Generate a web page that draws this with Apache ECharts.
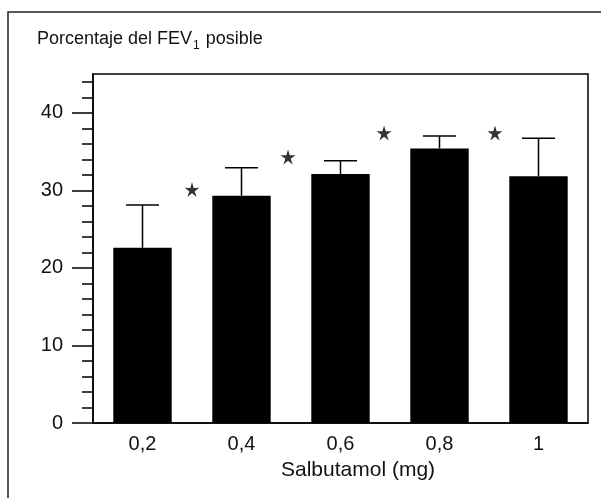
<!DOCTYPE html>
<html>
<head>
<meta charset="utf-8">
<script src="https://cdn.jsdelivr.net/npm/echarts@6/dist/echarts.min.js"></script>
<style>
  html, body { margin: 0; padding: 0; background: #fff; }
  #main { width: 601px; height: 498px; }
</style>
</head>
<body>
<div id="main"></div>
<script>
// dosis de salbutamol (mg)
var doses = ["0,2", "0,4", "0,6", "0,8", "1"];
// media del porcentaje del FEV1 posible
var means = [22.6, 29.3, 32.1, 35.4, 31.8];
// extremo superior de la barra de error
var upper = [28.1, 32.9, 33.8, 37.0, 36.7];
// asteriscos de significacion (x en unidades de categoria)
var starX = [0.5, 1.47, 2.44, 3.56];
var starY = [30.1, 34.3, 37.4, 37.4];
var majorTicks = [0, 10, 20, 30, 40];
var minorTicks = [2, 4, 6, 8, 12, 14, 16, 18, 22, 24, 26, 28, 32, 34, 36, 38, 42, 44];

var FONT = "'Liberation Sans', Arial, Helvetica, sans-serif";
var INK = "#111";
var STAR = "path://M50,0 L60.6,35.4 L97.6,34.6 L67.1,55.6 L79.4,90.5 L50,68 L20.6,90.5 L32.9,55.6 L2.4,34.6 L39.4,35.4 Z";

var chart = echarts.init(document.getElementById("main"));

var errData = means.map(function (m, i) { return [i, m, upper[i]]; });
var starData = starX.map(function (x, i) { return [x, starY[i]]; });

chart.setOption({
  animation: false,
  backgroundColor: "#fff",
  textStyle: { fontFamily: FONT, color: INK },
  title: {
    left: 32,
    top: 23,
    text: "{a|Porcentaje del FEV}{s|1}{a| posible}",
    textStyle: {
      fontWeight: "normal",
      rich: {
        a: { fontFamily: FONT, fontSize: 18, fontWeight: "normal", color: INK, lineHeight: 22 },
        s: { fontFamily: FONT, fontSize: 12, fontWeight: "normal", color: INK, padding: [13, 1, 0, 1], lineHeight: 22 }
      }
    }
  },
  graphic: [
    {
      type: "rect",
      shape: { x: 8, y: 12, width: 800, height: 800 },
      style: { fill: null, stroke: "#222", lineWidth: 1.5 },
      silent: true
    },
    {
      type: "text",
      left: 281,
      top: 460,
      style: { text: "Salbutamol (mg)", fontFamily: FONT, fontSize: 21, fill: INK }
    }
  ],
  grid: {
    left: 93, top: 74, right: 13, bottom: 75,
    show: true, borderColor: "#000", borderWidth: 1.5, backgroundColor: "transparent"
  },
  xAxis: [
    {
      type: "category",
      data: doses,
      axisLine: { onZero: false, lineStyle: { color: "#000", width: 1.5 } },
      axisTick: { show: false },
      axisLabel: { margin: 11, fontSize: 20, color: INK, fontFamily: FONT },
      splitLine: { show: false }
    },
    {
      type: "value",
      min: -0.5, max: 4.5,
      show: false
    }
  ],
  yAxis: [
    {
      type: "value",
      min: 0, max: 45,
      axisLine: { show: true, onZero: false, lineStyle: { color: "#000", width: 1.5 } },
      axisTick: { show: true, length: 21, customValues: majorTicks, lineStyle: { color: "#000", width: 1.5 } },
      axisLabel: { margin: 30, fontSize: 20, color: INK, fontFamily: FONT, customValues: majorTicks },
      splitLine: { show: false }
    },
    {
      type: "value",
      min: 0, max: 45,
      position: "left",
      axisLine: { show: false, onZero: false },
      axisTick: { show: true, length: 11, customValues: minorTicks, lineStyle: { color: "#000", width: 1.5 } },
      axisLabel: { show: false },
      splitLine: { show: false }
    }
  ],
  series: [
    {
      type: "bar",
      data: means,
      barWidth: "59%",
      itemStyle: { color: "#000" },
      z: 3
    },
    {
      type: "custom",
      data: errData,
      z: 2,
      renderItem: function (params, api) {
        var i = api.value(0);
        var base = api.coord([i, api.value(1)]);
        var top = api.coord([i, api.value(2)]);
        var half = 16.5;
        var st = { stroke: "#000", lineWidth: 1.5 };
        return {
          type: "group",
          children: [
            { type: "line", shape: { x1: base[0], y1: base[1], x2: top[0], y2: top[1] }, style: st },
            { type: "line", shape: { x1: top[0] - half, y1: top[1], x2: top[0] + half, y2: top[1] }, style: st }
          ]
        };
      }
    },
    {
      type: "scatter",
      xAxisIndex: 1,
      data: starData,
      symbol: STAR,
      symbolSize: 15,
      itemStyle: { color: "#000" },
      z: 4
    }
  ]
});
</script>
</body>
</html>
